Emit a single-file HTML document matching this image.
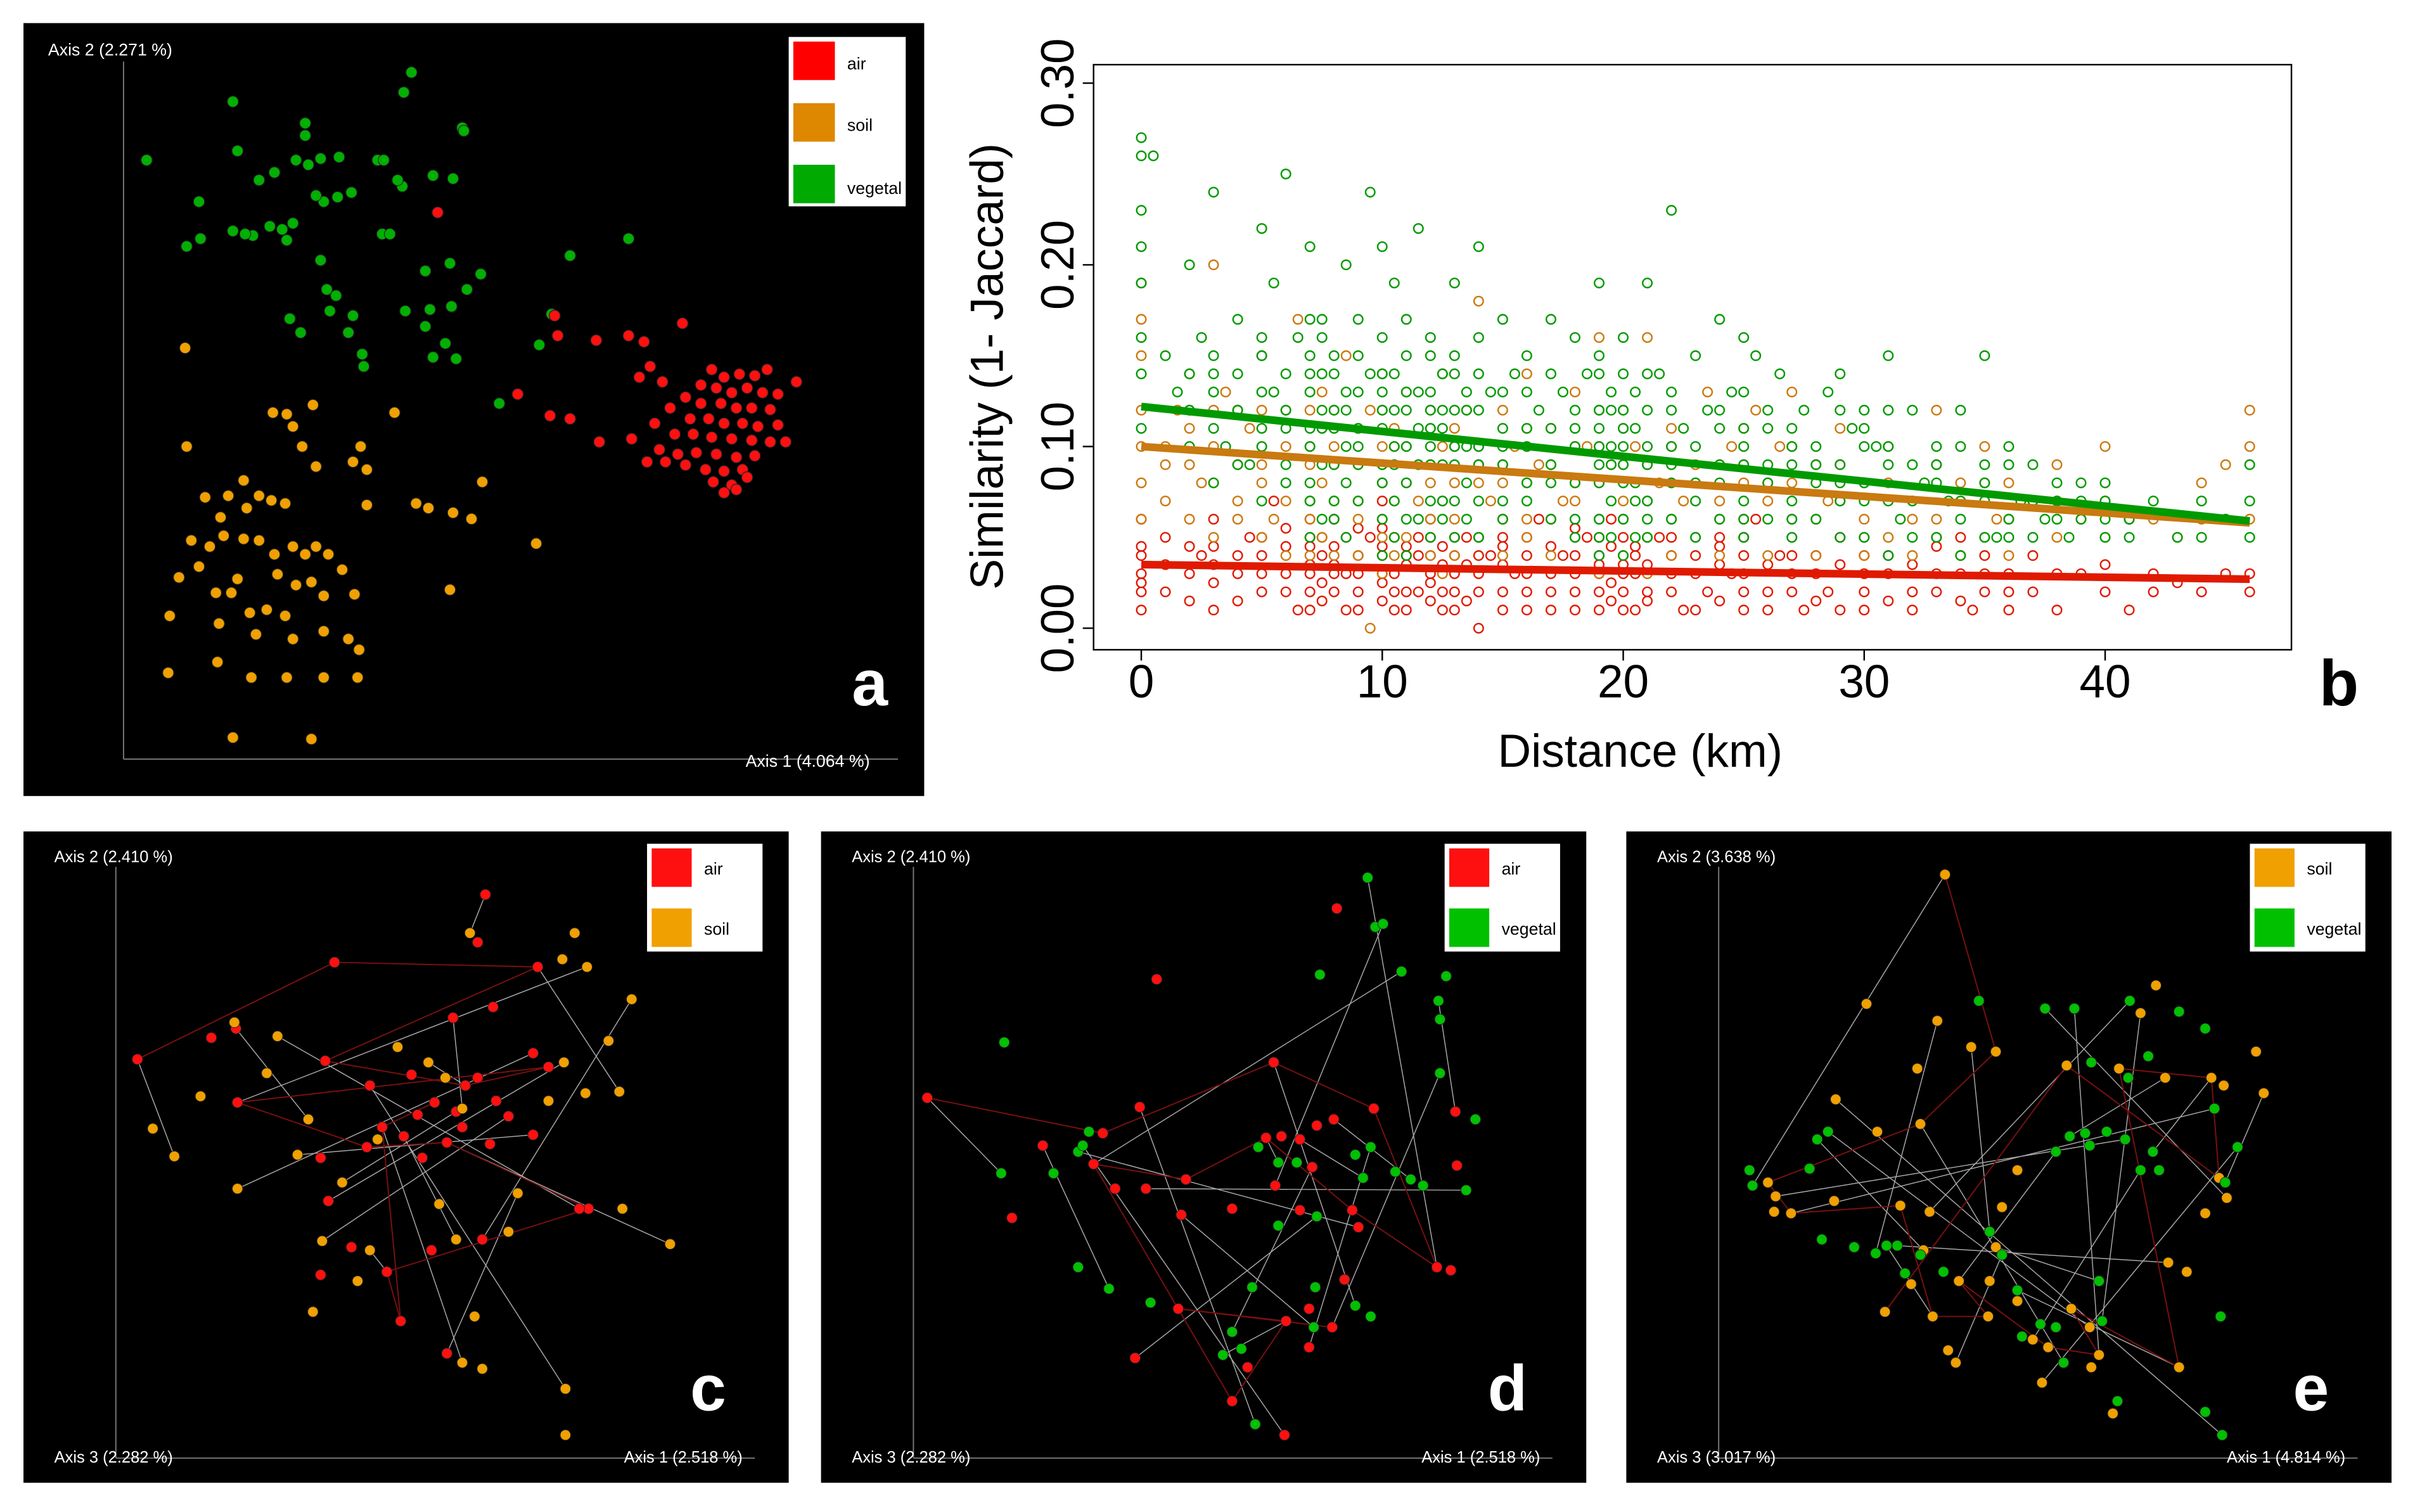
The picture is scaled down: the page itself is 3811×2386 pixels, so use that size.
<!DOCTYPE html>
<html><head><meta charset="utf-8"><style>
html,body{margin:0;padding:0;background:#fff}
svg{display:block}
text{font-family:"Liberation Sans",sans-serif}
</style></head><body>
<svg id="fig" xmlns="http://www.w3.org/2000/svg" width="3811" height="2386" viewBox="0 0 1568 982">
<rect x="0" y="0" width="1568" height="982" fill="#fff"/>
<g>
<rect x="15" y="15" width="585" height="502" fill="#000"/>
<line x1="80" y1="40" x2="80" y2="493" stroke="#777" stroke-width="0.8"/>
<line x1="80" y1="493" x2="583" y2="493" stroke="#777" stroke-width="0.8"/>
<text x="31" y="36" fill="#fff" font-size="11">Axis 2 (2.271 %)</text>
<text x="484" y="498" fill="#fff" font-size="11">Axis 1 (4.064 %)</text>
<g id="pa"></g>
<g>
<rect x="512" y="24" width="76" height="110" fill="#fff"/>
<rect x="515" y="27" width="27" height="25" fill="#ff0000"/><text x="550" y="45" font-size="11" font-family="Liberation Serif" fill="#000">air</text>
<rect x="515" y="67" width="27" height="25" fill="#dd8800"/><text x="550" y="85" font-size="11" font-family="Liberation Serif" fill="#000">soil</text>
<rect x="515" y="107" width="27" height="25" fill="#00aa00"/><text x="550" y="126" font-size="11" font-family="Liberation Serif" fill="#000">vegetal</text>
</g>
<text x="553" y="458" fill="#fff" font-size="42" font-weight="bold">a</text>
</g>
<g>
<rect x="710" y="42" width="778" height="380" fill="none" stroke="#000" stroke-width="1"/>
<g id="pb"></g>
<text transform="translate(651,238) rotate(-90)" text-anchor="middle" font-size="30">Similarity (1- Jaccard)</text>
<text x="1065" y="498" text-anchor="middle" font-size="30">Distance (km)</text>
<text x="1506" y="458" fill="#000" font-size="42" font-weight="bold">b</text>
</g>
<g id="pc"></g><g id="pd"></g><g id="pe"></g>
</svg>
<script>
const NS="http://www.w3.org/2000/svg";
function mk(tag,attrs,parent){const e=document.createElementNS(NS,tag);for(const k in attrs)e.setAttribute(k,attrs[k]);parent.appendChild(e);return e;}
const aGreen=[[95,104],[151,66],[154,98],[198,80],[198,88],[129,131],[121,160],[130,155],[151,150],[164,153],[175,147],[183,149],[178,112],[168,117],[192,104],[200,107],[208,103],[220,102],[228,125],[219,128],[210,131],[205,127],[245,104],[249,104],[261,121],[258,117],[281,114],[294,116],[300,83],[301,85],[262,60],[267,47],[186,156],[248,152],[253,152],[208,169],[212,188],[218,192],[229,205],[235,230],[236,238],[195,216],[188,207],[214,202],[276,176],[292,171],[312,178],[303,188],[293,199],[279,201],[263,202],[289,223],[281,232],[296,233],[276,212],[370,166],[408,155],[350,224],[324,262],[358,204],[159,152],[190,145],[226,216]];
const aRed=[[284,138],[360,205],[362,218],[387,221],[408,218],[418,222],[443,210],[336,256],[357,270],[370,272],[389,287],[410,285],[517,248],[462,240],[470,245],[480,243],[490,244],[498,240],[455,250],[465,252],[475,255],[485,252],[495,255],[505,256],[445,258],[455,262],[468,262],[478,265],[488,265],[500,266],[435,265],[448,272],[460,272],[470,275],[482,275],[492,277],[505,276],[425,275],[438,282],[450,282],[462,284],[475,285],[488,286],[500,287],[510,287],[428,292],[440,295],[452,294],[465,295],[478,297],[490,296],[445,302],[458,305],[470,306],[482,305],[463,313],[475,315],[485,310],[470,320],[478,318],[420,300],[432,300],[415,245],[422,238],[430,248]];
const aOrange=[[120,226],[121,290],[177,268],[186,269],[190,277],[203,263],[256,268],[196,290],[234,290],[205,303],[229,300],[238,305],[238,328],[270,327],[278,330],[294,333],[313,313],[306,337],[348,353],[292,383],[158,312],[168,322],[176,325],[185,327],[160,330],[148,322],[133,323],[143,336],[124,351],[136,355],[145,348],[158,350],[168,351],[178,360],[190,355],[205,355],[198,360],[213,360],[180,373],[192,380],[202,378],[210,387],[116,375],[129,368],[140,385],[150,385],[154,376],[162,398],[173,396],[185,400],[110,400],[142,405],[166,412],[190,415],[210,410],[226,415],[233,422],[232,440],[210,440],[186,440],[163,440],[141,430],[109,437],[151,479],[202,480],[222,370],[230,386]];
const bGreen=[[0,0.27],[0,0.26],[0,0.23],[0,0.21],[0,0.19],[0,0.16],[0,0.14],[0,0.11],[0.5,0.26],[1,0.15],[1.5,0.13],[2,0.2],[2,0.12],[2.5,0.16],[3,0.24],[3,0.14],[3.5,0.1],[4,0.17],[4,0.12],[4.5,0.09],[5,0.22],[5,0.15],[5,0.11],[5.5,0.19],[5.5,0.13],[6,0.25],[6,0.12],[6,0.08],[6.5,0.16],[7,0.21],[7,0.14],[7,0.1],[7,0.07],[7.5,0.17],[7.5,0.12],[8,0.15],[8,0.11],[8,0.06],[8.5,0.2],[8.5,0.13],[9,0.17],[9,0.1],[9,0.07],[9.5,0.24],[9.5,0.14],[10,0.21],[10,0.16],[10,0.12],[10,0.08],[10.5,0.19],[10.5,0.1],[11,0.17],[11,0.13],[11,0.06],[11.5,0.22],[11.5,0.11],[12,0.16],[12,0.12],[12,0.09],[12.5,0.14],[12.5,0.07],[13,0.19],[13,0.15],[13,0.1],[13.5,0.12],[14,0.21],[14,0.16],[14,0.09],[14.5,0.13],[15,0.17],[15,0.11],[15,0.07],[15.5,0.14],[16,0.15],[16,0.1],[16.5,0.12],[17,0.17],[17,0.08],[17.5,0.13],[18,0.16],[18,0.11],[18,0.06],[18.5,0.14],[19,0.19],[19,0.15],[19,0.1],[19,0.05],[19.5,0.12],[20,0.16],[20,0.11],[20,0.08],[20.5,0.13],[21,0.19],[21,0.1],[21,0.06],[21.5,0.14],[22,0.23],[22,0.12],[22,0.08],[22.5,0.11],[23,0.15],[23,0.07],[23.5,0.12],[24,0.17],[24,0.09],[24.5,0.13],[25,0.16],[25,0.1],[25,0.06],[25.5,0.15],[26,0.12],[26,0.08],[26.5,0.14],[27,0.1],[27,0.06],[27.5,0.12],[28,0.09],[28.5,0.13],[29,0.14],[29,0.08],[29.5,0.11],[30,0.12],[30,0.07],[30.5,0.1],[31,0.15],[31,0.09],[31.5,0.06],[32,0.12],[32.5,0.08],[33,0.1],[33.5,0.07],[34,0.12],[34,0.06],[35,0.15],[35,0.09],[35.5,0.05],[36,0.1],[36.5,0.07],[37,0.09],[37.5,0.06],[38,0.08],[38.5,0.05],[39,0.07],[40,0.08],[40,0.05],[41,0.06],[42,0.07],[43,0.05],[44,0.07],[45,0.06],[46,0.09],[46,0.07],[46,0.05],[44,0.05]];
const bOrange=[[0,0.19],[0,0.17],[0,0.15],[0,0.12],[0,0.1],[0,0.08],[0,0.06],[1,0.09],[1.5,0.12],[2,0.14],[2.5,0.08],[3,0.2],[3,0.1],[3.5,0.13],[4,0.07],[4.5,0.11],[5,0.15],[5,0.09],[5.5,0.06],[6,0.12],[6.5,0.17],[7,0.1],[7,0.07],[7.5,0.13],[8,0.09],[8.5,0.15],[9,0.11],[9,0.06],[9.5,0.12],[10,0.14],[10,0.09],[10,0.05],[10.5,0.1],[11,0.13],[11.5,0.07],[12,0.11],[12,0.08],[12.5,0.14],[13,0.1],[13,0.06],[13.5,0.12],[14,0.18],[14,0.09],[14.5,0.07],[15,0.12],[15,0.08],[15.5,0.1],[16,0.14],[16,0.06],[16.5,0.09],[17,0.11],[17.5,0.07],[18,0.13],[18,0.08],[18.5,0.1],[19,0.16],[19,0.06],[19.5,0.09],[20,0.12],[20,0.07],[20.5,0.1],[21,0.16],[21,0.05],[21.5,0.08],[22,0.11],[22.5,0.07],[23,0.09],[23.5,0.13],[24,0.06],[24.5,0.1],[25,0.08],[25.5,0.12],[26,0.07],[26.5,0.1],[27,0.13],[27,0.06],[28,0.09],[28.5,0.07],[29,0.11],[30,0.08],[30,0.05],[31,0.1],[32,0.07],[33,0.12],[33,0.06],[34,0.08],[35,0.1],[35.5,0.06],[36,0.08],[37,0.07],[38,0.09],[39,0.06],[40,0.1],[40,0.07],[41,0.06],[43,0.05],[44,0.08],[45,0.09],[46,0.12],[46,0.1],[46,0.06],[9.5,0.0]];
const bRed=[[0,0.04],[0,0.03],[0,0.02],[0,0.06],[1,0.02],[1,0.05],[2,0.03],[2.5,0.04],[3,0.01],[3,0.06],[4,0.03],[4.5,0.05],[5,0.02],[5,0.04],[5.5,0.07],[6,0.03],[6.5,0.01],[7,0.05],[7,0.02],[7.5,0.04],[8,0.03],[8,0.06],[8.5,0.01],[9,0.04],[9,0.02],[9.5,0.05],[10,0.03],[10,0.07],[10.5,0.01],[11,0.04],[11,0.02],[11.5,0.05],[12,0.03],[12,0.06],[12.5,0.01],[13,0.04],[13,0.02],[13.5,0.05],[14,0.03],[14,0.0],[14.5,0.04],[15,0.02],[15,0.05],[15.5,0.03],[16,0.01],[16,0.04],[16.5,0.06],[17,0.02],[17.5,0.04],[18,0.03],[18,0.01],[18.5,0.05],[19,0.02],[19,0.04],[19.5,0.06],[20,0.03],[20,0.01],[20.5,0.04],[21,0.02],[21.5,0.05],[22,0.03],[22.5,0.01],[23,0.04],[23.5,0.02],[24,0.05],[24.5,0.03],[25,0.01],[25,0.04],[25.5,0.06],[26,0.02],[26.5,0.04],[27,0.03],[27.5,0.01],[28,0.04],[28.5,0.02],[29,0.05],[30,0.03],[30,0.01],[31,0.04],[32,0.02],[33,0.03],[34,0.05],[34.5,0.01],[35,0.03],[36,0.02],[37,0.04],[38,0.01],[39,0.03],[40,0.02],[41,0.01],[42,0.03],[44,0.02],[46,0.03],[46,0.02]];
const bGreenExtra="2:.10,.12,.14;3:.08,.11,.13,.15;4:.09,.12,.14;5:.07,.10,.13,.16;6:.09,.11,.14;7:.05,.08,.11,.13,.15,.17;7.5:.06,.09,.11,.14,.16;8:.07,.09,.12,.14;8.5:.05,.08,.10,.12;9:.09,.11,.13,.15;10:.04,.06,.09,.11,.13,.14;10.5:.05,.07,.09,.12,.14;11:.04,.08,.10,.12,.15;11.5:.06,.09,.13;12:.05,.07,.10,.11,.13,.15;12.5:.06,.09,.11,.12;13:.05,.07,.09,.12,.14;13.5:.06,.08,.10,.13;14:.05,.07,.10,.12,.14;15:.06,.09,.10,.13;16:.07,.08,.11,.13;17:.06,.09,.11,.14;18:.05,.08,.10,.12;19:.04,.06,.08,.09,.11,.12,.14;19.5:.05,.07,.09,.10,.13;20:.04,.06,.09,.10,.12,.14;20.5:.05,.07,.08,.11;21:.05,.07,.09,.12,.14;22:.06,.09,.10,.13;23:.05,.08,.10;24:.06,.08,.11,.12;25:.05,.07,.09,.11,.13;26:.06,.09,.11;27:.05,.07,.09,.11;28:.06,.08,.10;29:.05,.07,.09,.12;30:.05,.08,.10,.11;31:.04,.07,.10,.12;32:.05,.07,.09;33:.05,.08,.09;34:.04,.07,.10;35:.05,.07,.08;36:.05,.06,.09;37:.05,.07;38:.06,.07;39:.06,.08;40:.06,.07;41:.05,.06";
const bOrangeExtra="1:.07,.10;2:.06,.09,.11;3:.05,.08,.12;4:.06,.09,.12;5:.05,.08,.12;6:.04,.07,.10;7:.04,.06,.09,.12;7.5:.05,.08,.11;8:.04,.07,.10,.12;9:.04,.07,.09;10:.03,.06,.08,.10,.12;10.5:.04,.07,.11;11:.05,.08,.10;12:.04,.06,.09,.12;12.5:.03,.07,.10;13:.04,.08,.11;14:.05,.08,.10;15:.04,.06,.09;16:.05,.08,.11;17:.04,.06,.09;18:.05,.07,.10;19:.03,.05,.08,.10,.12;20:.04,.06,.09,.11;21:.03,.07,.09;22:.04,.06,.10;23:.05,.08;24:.04,.07,.09;25:.05,.06,.09,.11;26:.04,.08;27:.05,.08,.10;28:.04,.06;29:.05,.07,.09;30:.04,.06;31:.05,.08;32:.04,.06;33:.05,.09;34:.04,.07;35:.05,.08;36:.04,.06;38:.05,.07;40:.05;42:.06;44:.06";
const bRedExtra="0:.01,.025,.045;1:.035;2:.015,.045;3:.025,.035,.045;4:.015,.04;5:.03,.05;6:.02,.045,.055;7:.01,.03,.035,.045,.06;7.5:.015,.025,.05;8:.02,.035,.045;8.5:.03,.05;9:.01,.03,.055;10:.015,.025,.04,.045,.055;10.5:.02,.03,.05;11:.01,.035,.045;11.5:.02,.04;12:.015,.025,.04,.05;12.5:.02,.035,.045;13:.01,.03,.05;13.5:.015,.035;14:.02,.04,.05;15:.01,.035,.045;16:.02,.03,.05;17:.01,.03,.045;18:.02,.04,.055;19:.01,.03,.035,.05;19.5:.015,.025,.045;20:.02,.035,.05;20.5:.01,.03,.045;21:.015,.035;22:.02,.04,.05;23:.01,.03;24:.015,.035,.045;25:.02,.03,.05;26:.01,.035;27:.02,.04;28:.015,.03;29:.01,.035;30:.02,.04;31:.015,.03;32:.01,.035;33:.02,.045;34:.015,.03;35:.02,.04;36:.01,.03;37:.02;38:.03;40:.035;42:.02;43:.025;45:.03";
const bFitIntercepts=[0.122,0.100,0.035];
const bFitEnds=[0.059,0.058,0.027];
const bFitColors=["#009a00","#c97a10","#e01a00"];
const bYTicks=[0,0.1,0.2,0.3];
const bYTickLabels=["0.00","0.10","0.20","0.30"];
const bXTicks=[0,10,20,30,40];
const bXTickLabels=["0","10","20","30","40"];
const cA=[[89,688],[137,674],[153,668],[217,625],[315,581],[310,612],[349,628],[320,654],[294,661],[211,689],[240,705],[267,698],[302,705],[310,700],[346,684],[356,693],[330,725],[300,732],[154,716],[208,752],[213,780],[238,745],[262,738],[274,752],[290,742],[318,743],[346,737],[382,785],[376,785],[228,810],[251,826],[280,812],[313,805],[260,858],[290,879],[208,828],[248,732],[271,724],[296,722],[282,716],[322,715]];
const cB=[[99,733],[113,751],[130,712],[154,772],[173,697],[180,673],[152,664],[200,727],[203,852],[209,806],[232,832],[240,812],[245,740],[305,606],[373,606],[381,628],[365,623],[410,649],[395,676],[402,709],[380,710],[366,690],[356,715],[336,775],[330,800],[300,720],[285,782],[296,805],[308,855],[300,885],[313,889],[367,902],[367,932],[435,808],[404,785],[222,768],[258,680],[278,690],[289,700],[193,750]];
const dA=[[602,713],[657,791],[677,744],[716,736],[740,719],[751,636],[827,690],[855,731],[866,727],[892,720],[945,722],[946,757],[933,823],[942,825],[882,797],[878,786],[852,758],[844,786],[822,739],[832,738],[844,740],[770,766],[744,772],[724,772],[710,756],[800,785],[767,789],[800,910],[834,932],[810,888],[835,858],[850,850],[737,882],[765,850],[850,875],[873,831],[865,862],[868,590],[828,770]];
const dB=[[652,677],[650,762],[684,762],[700,748],[707,735],[703,744],[700,823],[720,837],[747,846],[800,865],[806,876],[794,880],[813,836],[815,925],[830,796],[830,755],[842,755],[855,790],[854,836],[880,848],[890,855],[885,765],[880,750],[890,745],[906,761],[916,766],[924,770],[952,773],[958,727],[935,697],[935,662],[934,650],[939,634],[910,631],[893,602],[898,600],[857,633],[888,570],[817,745],[853,862]];
const eA=[[1263,568],[1212,652],[1258,663],[1296,683],[1280,680],[1245,694],[1247,730],[1219,735],[1192,714],[1148,768],[1153,777],[1152,787],[1163,788],[1191,780],[1253,787],[1234,783],[1249,812],[1241,834],[1255,855],[1265,877],[1270,885],[1291,855],[1296,810],[1292,832],[1272,832],[1310,845],[1320,870],[1330,875],[1326,898],[1358,888],[1363,880],[1372,918],[1357,862],[1345,850],[1408,820],[1420,826],[1415,888],[1400,640],[1390,658],[1376,694],[1406,700],[1444,705],[1436,700],[1465,683],[1470,710],[1441,765],[1446,778],[1432,788],[1342,692],[1310,760],[1300,784],[1224,852]];
const eB=[[1136,760],[1138,770],[1180,740],[1187,735],[1175,759],[1183,805],[1204,810],[1218,814],[1225,809],[1232,809],[1237,827],[1262,826],[1247,815],[1292,800],[1300,815],[1310,838],[1313,868],[1325,860],[1335,862],[1340,885],[1363,832],[1365,858],[1375,910],[1442,855],[1432,917],[1443,932],[1335,748],[1344,738],[1354,736],[1368,735],[1357,744],[1380,740],[1390,760],[1398,748],[1402,760],[1415,657],[1432,668],[1438,720],[1453,745],[1445,768],[1395,686],[1382,700],[1358,690],[1383,650],[1347,655],[1328,655],[1285,650]];

function parseCols(str){const out=[];str.split(';').forEach(col=>{const [d,vals]=col.split(':');vals.split(',').forEach(v=>out.push([+d,+v]));});return out;}
const ident=v=>v;
const pa=document.getElementById('pa');
function dotA(arr,col,name){arr.forEach(p=>{const c=mk('circle',{cx:ident(p[0]),cy:ident(p[1]),r:3.6,fill:col,stroke:'#222','stroke-width':0.5},pa);

});}
dotA(aGreen,'#00b000','point-vegetal');dotA(aOrange,'#f0a000','point-soil');dotA(aRed,'#ff1010','point-air');
const pb=document.getElementById('pb');
const xS=d=>741+d*15.65, yS=s=>408-s*1180;
bYTicks.forEach((t,i)=>{mk('line',{x1:703,x2:710,y1:yS(t),y2:yS(t),stroke:'#000','stroke-width':1},pb);
const tx=mk('text',{transform:`translate(697,${yS(t)}) rotate(-90)`,'text-anchor':'middle','font-size':30},pb);tx.textContent=bYTickLabels[i];

});
bXTicks.forEach((t,i)=>{mk('line',{x1:xS(t),x2:xS(t),y1:422,y2:429,stroke:'#000','stroke-width':1},pb);
const tx=mk('text',{x:xS(t),y:453,'text-anchor':'middle','font-size':30},pb);tx.textContent=bXTickLabels[i];

});
function dotB(arr,col,name){arr.forEach(p=>{const c=mk('circle',{cx:xS(p[0]),cy:yS(p[1]),r:3,fill:'none',stroke:col,'stroke-width':1},pb);

});}
dotB(bRed.concat(parseCols(bRedExtra)),'#e01a00','point-air');
dotB(bOrange.concat(parseCols(bOrangeExtra)),'#cc7a10','point-soil');
dotB(bGreen.concat(parseCols(bGreenExtra)),'#009a00','point-vegetal');
[2,1,0].forEach(i=>{const l=mk('line',{x1:xS(0),y1:yS(bFitIntercepts[i]),x2:xS(46),y2:yS(bFitEnds[i]),stroke:bFitColors[i],'stroke-width':5},pb);

});
function panel(id,x0,A,B,colA,colB,labA,labB,ax2,ax3,ax1,letter){
 const g=document.getElementById(id);
 
 
 mk('rect',{x:x0,y:540,width:497,height:423,fill:'#000'},g);
 mk('line',{x1:x0+60,y1:563,x2:x0+60,y2:947,stroke:'#777','stroke-width':0.8},g);
 mk('line',{x1:x0+60,y1:947,x2:x0+475,y2:947,stroke:'#777','stroke-width':0.8},g);
 let t=mk('text',{x:x0+20,y:560,fill:'#fff','font-size':10.5},g);t.textContent=ax2;
 t=mk('text',{x:x0+20,y:950,fill:'#fff','font-size':10.5},g);t.textContent=ax3;
 t=mk('text',{x:x0+390,y:950,fill:'#fff','font-size':10.5},g);t.textContent=ax1;
 const n=Math.min(A.length,B.length);
 for(let i=0;i<n;i+=2){const j=(i*3+1)%B.length;const l=mk('line',{x1:A[i][0],y1:A[i][1],x2:B[j][0],y2:B[j][1],stroke:'#aaa','stroke-width':0.6},g);
  
  }
 for(let i=0;i+3<A.length;i+=3){const l=mk('line',{x1:A[i][0],y1:A[i][1],x2:A[i+3][0],y2:A[i+3][1],stroke:'#7a1010','stroke-width':0.8},g);
  
  }
 A.forEach(p=>{const c=mk('circle',{cx:p[0],cy:p[1],r:3.4,fill:colA,stroke:'#222','stroke-width':0.4},g);
  
  });
 B.forEach(p=>{const c=mk('circle',{cx:p[0],cy:p[1],r:3.4,fill:colB,stroke:'#222','stroke-width':0.4},g);
  
  });
 const lg=mk('g',{},g);
 
 
 const lx=x0+405;
 mk('rect',{x:lx,y:548,width:75,height:70,fill:'#fff'},lg);
 mk('rect',{x:lx+3,y:551,width:26,height:25,fill:colA},lg);
 mk('rect',{x:lx+3,y:590,width:26,height:25,fill:colB},lg);
 t=mk('text',{x:lx+37,y:568,'font-size':11,'font-family':'Liberation Serif'},lg);t.textContent=labA;
 t=mk('text',{x:lx+37,y:607,'font-size':11,'font-family':'Liberation Serif'},lg);t.textContent=labB;
 t=mk('text',{x:x0+433,y:916,fill:'#fff','font-size':42,'font-weight':'bold'},g);t.textContent=letter;
}
panel('pc',15,cA,cB,'#ff1010','#f0a000','air','soil','Axis 2 (2.410 %)','Axis 3 (2.282 %)','Axis 1 (2.518 %)','c');
panel('pd',533,dA,dB,'#ff1010','#00c000','air','vegetal','Axis 2 (2.410 %)','Axis 3 (2.282 %)','Axis 1 (2.518 %)','d');
panel('pe',1056,eA,eB,'#f0a000','#00c000','soil','vegetal','Axis 2 (3.638 %)','Axis 3 (3.017 %)','Axis 1 (4.814 %)','e');
</script>
</body></html>
